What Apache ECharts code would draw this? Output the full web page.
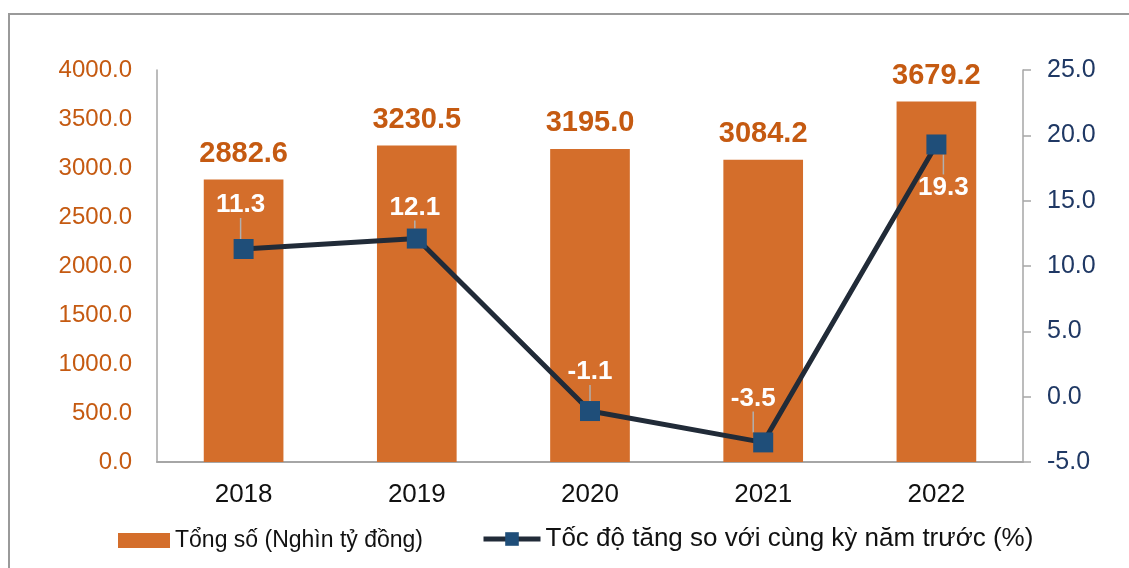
<!DOCTYPE html>
<html>
<head>
<meta charset="utf-8">
<script src="https://cdn.jsdelivr.net/npm/echarts@6/dist/echarts.min.js"></script>
<style>
  html, body { margin: 0; padding: 0; background: #fff; }
  #chart { width: 1129px; height: 568px; }
</style>
</head>
<body>
<div id="chart"></div>
<script>
// số liệu
var years = ['2018', '2019', '2020', '2021', '2022'];
var tongSo = [2882.6, 3230.5, 3195.0, 3084.2, 3679.2];
var tocDo = [11.3, 12.1, -1.1, -3.5, 19.3];
var leftTicks = [0, 4000, 500];
var rightTicks = [-5, 25, 5];

// vị trí nhãn của đường (dịch chuyển so với điểm)
var lineLabelShift = [[-3, -44], [-2, -31], [0, -39], [-10, -44], [7, 43]];

var myChart = echarts.init(document.getElementById('chart'));
var option = {
  animation: false,
  backgroundColor: '#fff',
  graphic: [{
    type: 'rect',
    shape: { x: 9, y: 14, width: 1300, height: 700 },
    style: { fill: 'none', stroke: '#9a9a9a', lineWidth: 2 },
    silent: true
  }],
  grid: { left: 157, right: 106, top: 70, bottom: 106 },
  legend: [{
    left: 113, top: 524,
    icon: 'rect',
    itemWidth: 52, itemHeight: 15, itemGap: 6,
    textStyle: { fontFamily: 'Liberation Sans', fontSize: 23, color: '#111' },
    data: ['Tổng số (Nghìn tỷ đồng)']
  }, {
    left: 476, top: 521,
    itemWidth: 57, itemHeight: 17, itemGap: 6,
    lineStyle: { width: 5 },
    textStyle: { fontFamily: 'Liberation Sans', fontSize: 26, color: '#111' },
    data: ['Tốc độ tăng so với cùng kỳ năm trước (%)']
  }],
  xAxis: {
    type: 'category',
    data: years,
    axisLine: { lineStyle: { color: '#a6a6a6', width: 2 } },
    axisTick: { show: false },
    axisLabel: { margin: 20, fontFamily: 'Liberation Sans', fontSize: 26, color: '#111' }
  },
  yAxis: [{
    type: 'value',
    min: leftTicks[0], max: leftTicks[1], interval: leftTicks[2],
    axisLine: { show: true, lineStyle: { color: '#a6a6a6', width: 1.5 } },
    axisTick: { show: false },
    splitLine: { show: false },
    axisLabel: {
      margin: 25, fontFamily: 'Liberation Sans', fontSize: 24, color: '#C55A11',
      formatter: function (v) { return v.toFixed(1); }
    }
  }, {
    type: 'value',
    min: rightTicks[0], max: rightTicks[1], interval: rightTicks[2],
    axisLine: { show: true, lineStyle: { color: '#a6a6a6', width: 1.5 } },
    axisTick: { show: true, length: 8, lineStyle: { color: '#a6a6a6', width: 1.5 } },
    splitLine: { show: false },
    axisLabel: {
      margin: 24, fontFamily: 'Liberation Sans', fontSize: 25, color: '#1F3864',
      formatter: function (v) { return v.toFixed(1); }
    }
  }],
  series: [{
    name: 'Tổng số (Nghìn tỷ đồng)',
    type: 'bar',
    data: tongSo,
    barWidth: '46%',
    itemStyle: { color: '#D46E2B' },
    label: {
      show: true, position: 'top', distance: 11,
      fontFamily: 'Liberation Sans', fontWeight: 'bold', fontSize: 29, color: '#C55A11',
      formatter: function (p) { return p.value.toFixed(1); }
    }
  }, {
    name: 'Tốc độ tăng so với cùng kỳ năm trước (%)',
    type: 'line',
    yAxisIndex: 1,
    data: tocDo,
    symbol: 'rect',
    symbolSize: 20,
    z: 5,
    lineStyle: { color: '#212B38', width: 5 },
    itemStyle: { color: '#1F4E79' },
    label: {
      show: true, position: 'inside',
      fontFamily: 'Liberation Sans', fontWeight: 'bold', fontSize: 26, color: '#fff',
      formatter: function (p) { return p.value.toFixed(1); }
    },
    labelLine: { show: true, lineStyle: { color: '#b0b0b0', width: 1.5 } },
    labelLayout: function (p) {
      var s = lineLabelShift[p.dataIndex];
      return { dx: s[0], dy: s[1] };
    }
  }]
};
myChart.setOption(option);
</script>
</body>
</html>
